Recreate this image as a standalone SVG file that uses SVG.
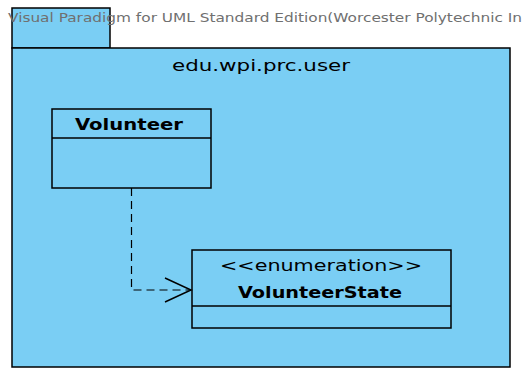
<svg xmlns="http://www.w3.org/2000/svg" width="524" height="368" viewBox="0 0 524 368">
  <style>
    .box { fill: #7acef4; stroke: #000; stroke-width: 1.5; }
    .line { stroke: #000; stroke-width: 1.5; fill: none; }
    .dash { stroke: #000; stroke-width: 1.2; fill: none; stroke-dasharray: 8 5; }
    .title { font-family: "DejaVu Sans", "Liberation Sans", sans-serif; fill: #000; text-anchor: middle; font-size: 16px; }
    .bold { font-weight: bold; }
    .wm { font-family: "DejaVu Sans", "Liberation Sans", sans-serif; font-size: 12px; fill: #707070; }
  </style>
  <rect width="524" height="368" fill="#fff"/>

  <!-- package edu.wpi.prc.user -->
  <g id="package">
    <rect class="box" x="12" y="8" width="98" height="40"/>
    <rect class="box" x="12" y="48" width="498" height="319"/>
    <text class="title" x="261" y="71" textLength="178" lengthAdjust="spacingAndGlyphs">edu.wpi.prc.user</text>
  </g>

  <text class="wm" x="8" y="22" textLength="514" lengthAdjust="spacingAndGlyphs">Visual Paradigm for UML Standard Edition(Worcester Polytechnic In</text>

  <!-- class Volunteer -->
  <g id="Volunteer">
    <rect class="box" x="52" y="109" width="159" height="79"/>
    <line class="line" x1="52" y1="138" x2="211" y2="138"/>
    <text class="title bold" x="129" y="130" textLength="108" lengthAdjust="spacingAndGlyphs">Volunteer</text>
  </g>

  <!-- enumeration VolunteerState -->
  <g id="VolunteerState">
    <rect class="box" x="192" y="250" width="259" height="78"/>
    <line class="line" x1="192" y1="306" x2="451" y2="306"/>
    <text class="title" x="321" y="271" textLength="202" lengthAdjust="spacingAndGlyphs">&lt;&lt;enumeration&gt;&gt;</text>
    <text class="title bold" x="320" y="298" textLength="164" lengthAdjust="spacingAndGlyphs">VolunteerState</text>
  </g>

  <!-- dependency -->
  <g id="connectors">
    <polyline class="dash" points="131.5,188 131.5,290 191,290"/>
    <polyline class="line" points="165,278 191,290 165,302"/>
  </g>
</svg>
